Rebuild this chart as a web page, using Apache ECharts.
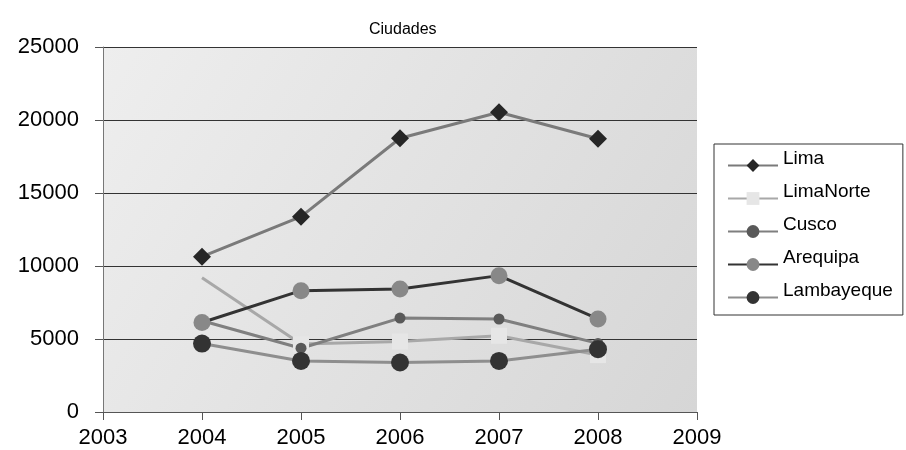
<!DOCTYPE html>
<html>
<head>
<meta charset="utf-8">
<script src="https://cdn.jsdelivr.net/npm/echarts@6/dist/echarts.min.js"></script>
<style>html,body{margin:0;padding:0;background:#fff;}#c{width:906px;height:450px;}</style>
</head>
<body>
<div id="c"></div>
<script>
const years = [2004, 2005, 2006, 2007, 2008];
const lima = [10640, 13380, 18750, 20530, 18720];
const limaNorte = [9200, 4650, 4830, 5220, 3900];
const cusco = [6250, 4370, 6430, 6370, 4700];
const arequipa = [6130, 8310, 8420, 9340, 6370];
const lambayeque = [4690, 3500, 3390, 3500, 4300];
const xTicks = [2003, 2004, 2005, 2006, 2007, 2008, 2009];
const yTicks = [0, 5000, 10000, 15000, 20000, 25000];

const FONT = 'Liberation Sans';
function pts(vals, hideFirst) {
  return vals.map((v, i) => {
    if (hideFirst && i === 0) return { value: [years[i], v], symbol: 'none' };
    return [years[i], v];
  });
}
function mk(name, vals, lineColor, lineWidth, symbol, size, markColor, hideFirst) {
  return {
    name, type: 'line', data: pts(vals, hideFirst),
    symbol, symbolSize: size, showSymbol: true,
    lineStyle: { color: lineColor, width: lineWidth },
    itemStyle: { color: markColor, borderWidth: 0 },
    color: lineColor,
    emphasis: { disabled: true },
    animation: false
  };
}
const chart = echarts.init(document.getElementById('c'));
chart.setOption({
  animation: false,
  title: {
    text: 'Ciudades', left: 364, top: 17,
    textStyle: { fontFamily: FONT, fontSize: 16, fontWeight: 'normal', color: '#000' }
  },
  legend: {
    orient: 'vertical', left: 714, top: 144,
    padding: [5, 10, 1, 13],
    itemWidth: 50, itemHeight: 16, itemGap: 0,
    borderColor: '#333', borderWidth: 1, backgroundColor: '#fff',
    formatter: name => '{t|' + name + '}',
    textStyle: {
      fontFamily: FONT, fontSize: 19, color: '#000',
      rich: { t: { fontFamily: FONT, fontSize: 19, color: '#000', lineHeight: 18, padding: [0, 0, 14, 0] } }
    },
    data: ['Lima', 'LimaNorte', 'Cusco', 'Arequipa', 'Lambayeque']
  },
  grid: {
    left: 103, right: 209, top: 47, bottom: 38, show: true, borderWidth: 0,
    backgroundColor: new echarts.graphic.LinearGradient(0, 0, 1, 1, [
      { offset: 0, color: '#eeeeee' }, { offset: 1, color: '#d6d6d6' }
    ])
  },
  xAxis: {
    type: 'value', min: xTicks[0], max: xTicks[xTicks.length - 1], interval: 1,
    axisLine: { show: true, lineStyle: { color: '#555', width: 1 } },
    axisTick: { show: true, length: 8, lineStyle: { color: '#555' } },
    axisLabel: { margin: 15, fontFamily: FONT, fontSize: 22, color: '#000', formatter: v => String(v) },
    splitLine: { show: false }
  },
  yAxis: {
    type: 'value', min: yTicks[0], max: yTicks[yTicks.length - 1], interval: 5000,
    axisLine: { show: true, lineStyle: { color: '#777', width: 1 } },
    axisTick: { show: true, length: 8, lineStyle: { color: '#555' } },
    axisLabel: { margin: 24, fontFamily: FONT, fontSize: 22, color: '#000', formatter: v => String(v) },
    splitLine: { show: true, lineStyle: { color: '#333', width: 1 } }
  },
  series: [
    mk('Lima', lima, '#7a7a7a', 3, 'diamond', 18, '#262626'),
    mk('LimaNorte', limaNorte, '#a8a8a8', 3, 'rect', 16, '#e6e6e6', true),
    mk('Cusco', cusco, '#7f7f7f', 3, 'circle', 11, '#595959'),
    mk('Arequipa', arequipa, '#333333', 3, 'circle', 17, '#888888'),
    mk('Lambayeque', lambayeque, '#8e8e8e', 3, 'circle', 18, '#333333')
  ]
});
</script>
</body>
</html>
